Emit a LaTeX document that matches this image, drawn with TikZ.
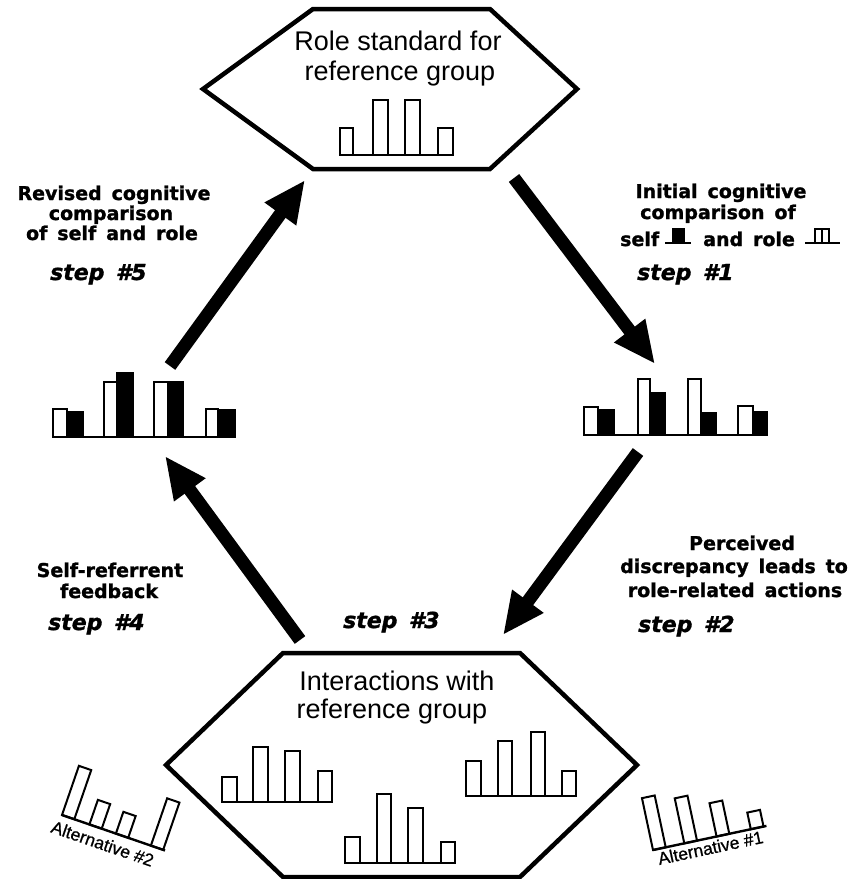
\documentclass[tikz,border=0pt]{standalone}
\usepackage{fontspec}
\setmainfont{Liberation Sans}
\newfontfamily\heavy[WordSpace=1.5, BoldFeatures={FakeBold=1.3}, BoldItalicFeatures={FakeBold=1.3}]{DejaVu Sans}
\newfontfamily\altfont[FakeBold=0.8]{Liberation Sans}
\usetikzlibrary{arrows.meta}
\begin{document}
\begin{tikzpicture}[x=1pt,y=-1pt,
  hexbox/.style={draw=black, line width=4.5pt, line join=miter},
  wbar/.style={draw=black, fill=white, line width=2pt},
  bbar/.style={draw=black, fill=black, line width=1.5pt},
  axisline/.style={draw=black, line width=2.4pt},
  bigarrow/.style={draw=black, line width=13pt, line cap=butt, -{Triangle[width=36pt,length=42pt]}},
  boxtext/.style={inner sep=0pt, anchor=base, font=\fontsize{27}{30}\selectfont},
  steptext/.style={inner sep=0pt, anchor=base, font=\heavy\bfseries\fontsize{19}{21}\selectfont},
  steptextw/.style={inner sep=0pt, anchor=base west, font=\heavy\bfseries\fontsize{19}{21}\selectfont},
  steplbl/.style={inner sep=0pt, anchor=base west, font=\heavy\bfseries\itshape\fontsize{22}{24}\selectfont},
  alttext/.style={inner sep=0pt, anchor=base west, font=\altfont\fontsize{17.5}{19}\selectfont},
]
\useasboundingbox (0,0) rectangle (854,879);
\fill[white] (0,0) rectangle (854,879);

% ---------- top hexagon ----------
\draw[hexbox] (203,89) -- (313,9) -- (490,9) -- (577,89) -- (490,169) -- (313,169) -- cycle;
\node[boxtext] (roleA) at (398,50) {Role standard for};
\node[boxtext] (roleB) at (400,80) {reference group};
\begin{scope}[shift={(0,155)}]
  \foreach \a/\b/\h in {340/353/27,373/388/55,405/420/55,438/453/27}
    \draw[wbar] (\a,0) rectangle (\b,-\h);
  \draw[axisline] (340,0) -- (453,0);
\end{scope}

% ---------- bottom hexagon ----------
\draw[hexbox] (166,765) -- (283,653) -- (520,653) -- (637,765) -- (520,877) -- (283,877) -- cycle;
\node[boxtext] (interA) at (397,690) {Interactions with};
\node[boxtext] (interB) at (392,718) {reference group};
\begin{scope}[shift={(0,802)}]
  \foreach \a/\b/\h in {222/237/25,253/268/55,285/300/51,318/332/31}
    \draw[wbar] (\a,0) rectangle (\b,-\h);
  \draw[axisline] (222,0) -- (332,0);
\end{scope}
\begin{scope}[shift={(0,863)}]
  \foreach \a/\b/\h in {345/360/26,377/391/69,408/423/55,441/455/21}
    \draw[wbar] (\a,0) rectangle (\b,-\h);
  \draw[axisline] (345,0) -- (455,0);
\end{scope}
\begin{scope}[shift={(0,796)}]
  \foreach \a/\b/\h in {466/481/35,498/512/55,531/545/64,562/576/25}
    \draw[wbar] (\a,0) rectangle (\b,-\h);
  \draw[axisline] (466,0) -- (576,0);
\end{scope}

% ---------- comparison charts ----------
\begin{scope}[shift={(0,437)}]
  \foreach \a/\b/\h in {53/67/28,104/117/55,154/168/55,206/218/28}
    \draw[wbar] (\a,0) rectangle (\b,-\h);
  \foreach \a/\b/\h in {67/83/25,117/133/64,168/183/55,218/235/27}
    \draw[bbar] (\a,0) rectangle (\b,-\h);
  \draw[axisline] (53,0) -- (235,0);
\end{scope}
\begin{scope}[shift={(0,435)}]
  \foreach \a/\b/\h in {584/598/28,638/650/56,688/701/56,738/753/29}
    \draw[wbar] (\a,0) rectangle (\b,-\h);
  \foreach \a/\b/\h in {598/614/25,650/665/42,701/716/22,753/767/23}
    \draw[bbar] (\a,0) rectangle (\b,-\h);
  \draw[axisline] (584,0) -- (767,0);
\end{scope}

% ---------- alternatives ----------
\begin{scope}[shift={(62,815)}, rotate=-19]
  \foreach \a/\b/\h in {0/13/52,29/42/26,57/70/23,94/107/50}
    \draw[wbar] (\a,0) -- (\a,-\h) -- (\b,-\h) -- (\b,0) -- cycle;
  \draw[axisline] (0,0) -- (109,0);
  \node[alttext, rotate=-19] (alt2) at (-6,20) {Alternative \#2};
\end{scope}
\begin{scope}[shift={(653,850)}, rotate=12]
  \foreach \a/\b/\h in {0/13/53,32/45/46,65/78/34,100/113/17}
    \draw[wbar] (\a,0) -- (\a,-\h) -- (\b,-\h) -- (\b,0) -- cycle;
  \draw[axisline] (0,0) -- (116,0);
  \node[alttext, rotate=12] (alt1) at (3,16) {Alternative \#1};
\end{scope}

% ---------- arrows ----------
\coordinate (a1s) at (514,178); \coordinate (a1e) at (655,364);
\coordinate (a2s) at (638,452); \coordinate (a2e) at (503,635);
\coordinate (a4s) at (300,640); \coordinate (a4e) at (165,456);
\coordinate (a5s) at (170,366); \coordinate (a5e) at (305,180);
\draw[bigarrow] (a1s) -- (a1e);
\draw[bigarrow] (a2s) -- (a2e);
\draw[bigarrow] (a4s) -- (a4e);
\draw[bigarrow] (a5s) -- (a5e);

% ---------- step 5 ----------
\node[steptext] (s5a) at (114,200) {Revised cognitive};
\node[steptext] (s5b) at (111,220) {comparison};
\node[steptext] (s5c) at (112,240) {of self and role};
\node[steplbl] (st5) at (50,280) {step \#5};

% ---------- step 1 ----------
\node[steptext] (s1a) at (721,198) {Initial cognitive};
\node[steptext] (s1b) at (718,219) {comparison of};
\node[steptextw] (s1self) at (620,246) {self};
\node[steptextw] (s1role) at (703,246) {and role};
\draw[bbar] (673,243) rectangle (684,229);
\draw[axisline, line width=2pt] (665,243) -- (691,243);
\draw[wbar, line width=1.5pt] (815,243) rectangle (822,229);
\draw[wbar, line width=1.5pt] (822,243) rectangle (829,229);
\draw[axisline, line width=2pt] (805,243) -- (840,243);
\node[steplbl] (st1) at (637,280) {step \#1};

% ---------- step 2 ----------
\node[steptext] (s2a) at (742,550) {Perceived};
\node[steptext] (s2b) at (734,573) {discrepancy leads to};
\node[steptext] (s2c) at (735,597) {role-related actions};
\node[steplbl] (st2) at (638,632) {step \#2};

% ---------- step 3 ----------
\node[steplbl] (st3) at (343,628) {step \#3};

% ---------- step 4 ----------
\node[steptext] (s4a) at (110,577) {Self-referrent};
\node[steptext] (s4b) at (109,598) {feedback};
\node[steplbl] (st4) at (48,630) {step \#4};
\end{tikzpicture}
\end{document}
